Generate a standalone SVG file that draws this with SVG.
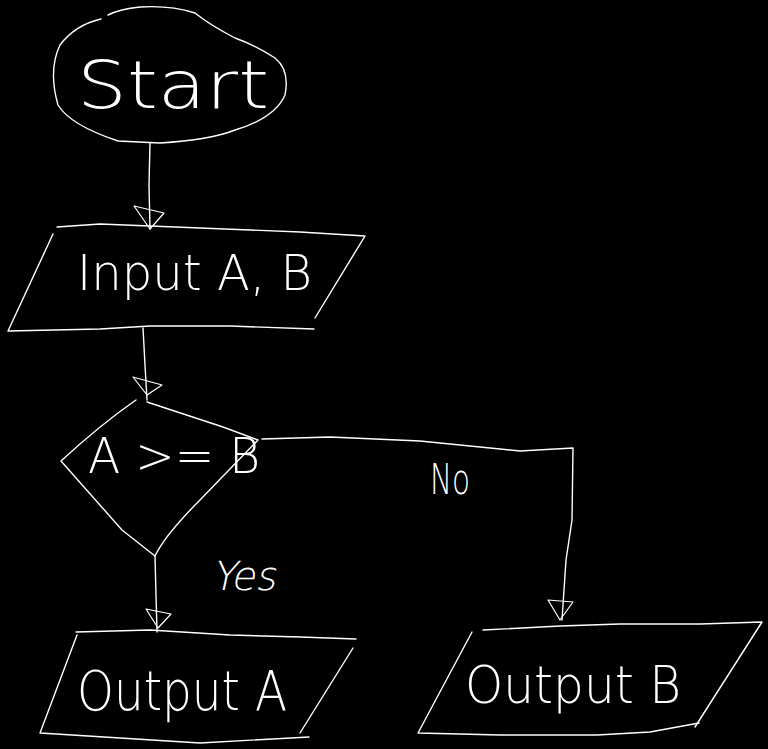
<svg xmlns="http://www.w3.org/2000/svg" width="768" height="749" viewBox="0 0 768 749">
<style>
.ln{fill:none;stroke:#fff;stroke-width:1.4;stroke-linejoin:round;stroke-linecap:round}
.ah{fill:none;stroke:#fff;stroke-width:1.2;stroke-linejoin:round}
.tx{fill:#fff;font-family:"DejaVu Sans","Liberation Sans",sans-serif;font-weight:200}
</style>
<rect width="768" height="749" fill="#000"/>
<g id="connectors">
  <path class="ln" d="M150,143 L149,185 L150,229"/>
  <polygon class="ah" points="134,206 164,213 150,229"/>
  <path class="ln" d="M143,328 L145,365 L147,400"/>
  <polygon class="ah" points="133,377 162,385 147,395"/>
  <path class="ln" d="M155,556 L156,595 L157,632"/>
  <polygon class="ah" points="146,609 171,614 158,628"/>
  <path class="ln" d="M262,439 L330,437 L420,441 L520,451 L573,448 L572,520 L566,560 L562,620"/>
  <polygon class="ah" points="548,600 573,602 560,620"/>
  <text class="tx" x="430" y="494" font-size="42" textLength="40" lengthAdjust="spacingAndGlyphs">No</text>
  <text class="tx" x="212" y="590" font-size="40" textLength="64" lengthAdjust="spacingAndGlyphs" transform="skewX(-12) translate(125,0)">Yes</text>
</g>
<g id="start">
  <path class="ln" d="M101,19 Q75,25 60,45 Q48,70 58,105 Q70,125 118,141 L160,143 Q210,140 235,130 Q275,118 285,95 Q290,70 275,58 Q255,45 235,38 Q210,25 195,13 Q170,5 140,7 Q120,9 108,15"/>
  <text class="tx" x="77" y="108" font-size="66" textLength="192" lengthAdjust="spacingAndGlyphs">Start</text>
</g>
<g id="input">
  <path class="ln" d="M57,227 L100,224 L150,226 L250,230 L300,232 L365,236 L315,318"/>
  <path class="ln" d="M53,234 L8,331 L100,329 L150,326 L230,326 L314,329"/>
  <text class="tx" x="77" y="290" font-size="50" textLength="235" lengthAdjust="spacingAndGlyphs">Input A, B</text>
</g>
<g id="decision">
  <path class="ln" d="M136,400 Q100,425 61,461 Q100,505 122,530 L155,556 Q165,535 200,500 L258,440 L223,427 L147,402"/>
  <text class="tx" x="88" y="473" font-size="50" textLength="172" lengthAdjust="spacingAndGlyphs">A &gt;= B</text>
</g>
<g id="outputA">
  <path class="ln" d="M76,632 L150,630 L230,635 L300,637 L356,639"/>
  <path class="ln" d="M77,635 L40,733 Q120,738 200,743 L309,737"/>
  <path class="ln" d="M353,648 L300,733"/>
  <text class="tx" x="77" y="710" font-size="56" textLength="210" lengthAdjust="spacingAndGlyphs">Output A</text>
</g>
<g id="outputB">
  <path class="ln" d="M483,630 L560,626 L620,624 L700,624 L762,622 L695,727"/>
  <path class="ln" d="M472,632 L418,733 L500,735 L597,735 L650,732 L699,723"/>
  <text class="tx" x="465" y="703" font-size="52" textLength="216" lengthAdjust="spacingAndGlyphs">Output B</text>
</g>
</svg>
